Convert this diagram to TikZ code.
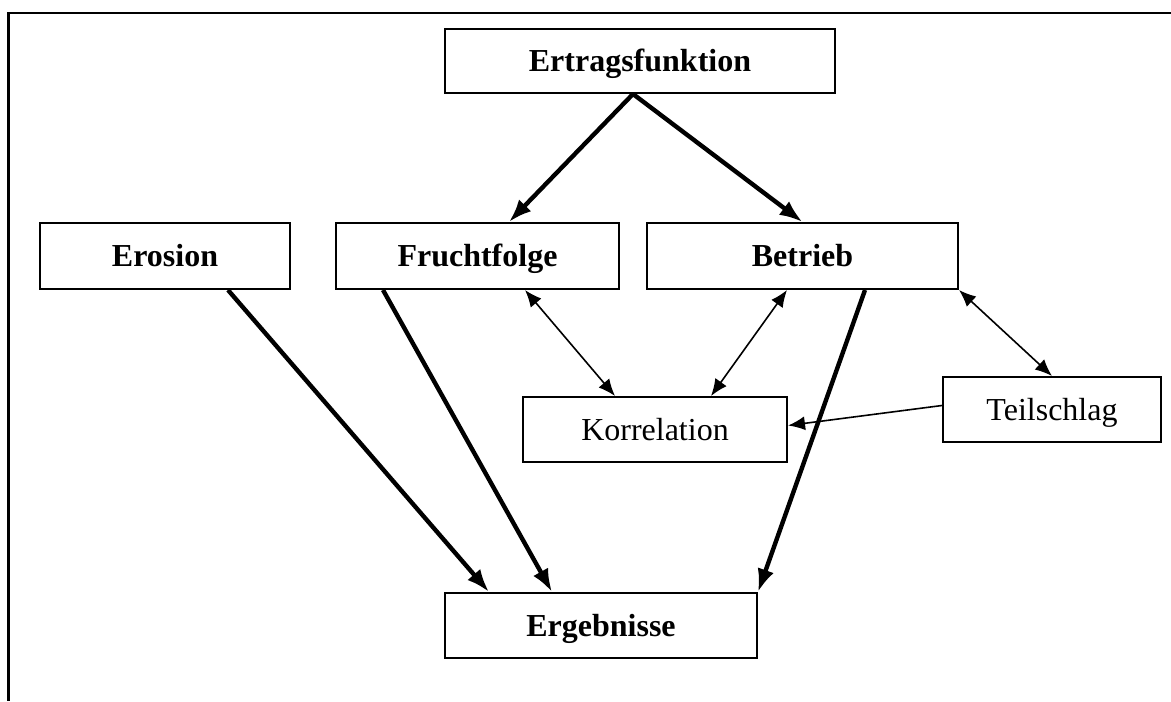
\documentclass[tikz,border=0pt]{standalone}
\usepackage{fontspec}
\setmainfont{Liberation Serif}
\usetikzlibrary{arrows.meta, calc, positioning}

\begin{document}
\begin{tikzpicture}[x=0.5pt, y=-0.5pt,
  box/.style={draw, line width=1pt, inner sep=0pt, minimum height=32.5pt, text height=10.6pt, text depth=0pt, font=\fontsize{16}{19}\selectfont},
  bbox/.style={box, font=\fontsize{16}{19}\selectfont\bfseries},
  fat/.style={line width=2.2pt, -{Latex[length=11.5pt,width=8.5pt]}},
  link/.style={line width=0.8pt, {Latex[length=8.5pt,width=7pt]}-{Latex[length=8.5pt,width=7pt]}}]
\useasboundingbox(0,0)rectangle(1171,701);
\draw[line width=1.4pt](1171,13)--(8.5,13)--(8.5,701);

\node[bbox, minimum width=195pt, minimum height=32pt](ertrag) at (640,61){Ertragsfunktion};
\node[bbox, minimum width=125pt, minimum height=33pt](erosion) at (165,256){Erosion};
\node[bbox, minimum width=141.5pt, minimum height=33pt](frucht) at (477.5,256){Fruchtfolge};
\node[bbox, minimum width=155.5pt, minimum height=33pt](betrieb) at (802.5,256){Betrieb};
\node[box, minimum width=132pt](korr) at (655,429.5){Korrelation};
\node[box, minimum width=109pt](teil) at (1052,409.5){Teilschlag};
\node[bbox, minimum width=156pt](ergeb) at (601,625.5){Ergebnisse};

\coordinate (split) at ($(ertrag.south)+(-7,0)$);
\draw[fat](split)--($(frucht.north)+(31.5,0)$);
\draw[fat](split)--(betrieb.north);
\draw[fat]($(erosion.south)+(63,0)$)--($(ergeb.north)+(-112,0)$);
\draw[fat]($(frucht.south)+(-94.5,0)$)--($(ergeb.north)+(-49,0)$);
\draw[fat]($(betrieb.south)+(62.5,0)$)--(ergeb.north east);

\draw[link]($(frucht.south)+(47.5,0)$)--($(korr.north)+(-40,0)$);
\draw[link]($(betrieb.south)+(-15.5,0)$)--($(korr.north)+(56,0)$);
\draw[link](betrieb.south east)--(teil.north);
\draw[line width=0.8pt, -{Latex[length=8.5pt,width=7pt]}]($(teil.west)+(0,-4)$)--($(korr.east)+(0,-4)$);

\end{tikzpicture}
\end{document}
